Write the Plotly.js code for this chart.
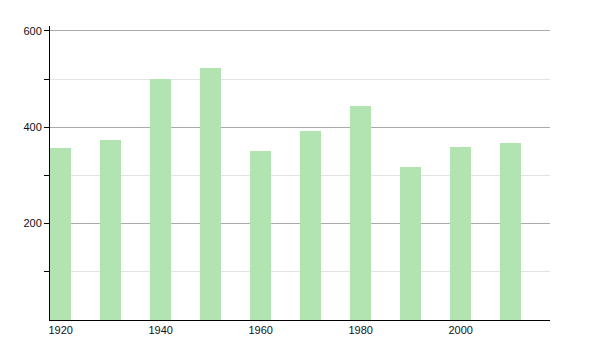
<!DOCTYPE html>
<html>
<head>
<meta charset="utf-8">
<script src="https://cdn.plot.ly/plotly-3.0.1.min.js"></script>
<style>html,body{margin:0;padding:0;background:#fff;}#chart{width:600px;height:350px;}</style>
</head>
<body>
<div id="chart"></div>
<script>
const years = [1920, 1930, 1940, 1950, 1960, 1970, 1980, 1990, 2000, 2010];
const values = [356, 373, 501, 522, 350, 392, 443, 317, 358, 367];
const xTickVals = [1920, 1940, 1960, 1980, 2000];
const xTickText = ["1920", "1940", "1960", "1980", "2000"];
const yTickVals = [200, 400, 600];

const trace = {
  type: 'bar',
  x: years,
  y: values,
  offset: 0,
  width: 4.2,
  marker: {color: 'rgb(178,228,178)', line: {width: 0}},
  hoverinfo: 'x+y'
};

const layout = {
  width: 600,
  height: 350,
  margin: {l: 50, r: 50, t: 26, b: 30, pad: 0},
  paper_bgcolor: '#fff',
  plot_bgcolor: '#fff',
  showlegend: false,
  font: {family: 'Liberation Sans, Arial, sans-serif', size: 11, color: '#111'},
  xaxis: {
    range: [1920, 2020],
    tickvals: xTickVals,
    ticktext: xTickText,
    ticks: '',
    ticklabelposition: 'outside right',
    ticklabelshift: -2,
    showgrid: false,
    zeroline: false,
    showline: true,
    linecolor: '#000',
    linewidth: 1,
    fixedrange: true
  },
  yaxis: {
    range: [0, 610],
    tickvals: yTickVals,
    ticks: 'outside',
    ticklen: 5,
    tickcolor: '#000',
    showgrid: true,
    gridcolor: '#aaaaaa',
    gridwidth: 1,
    zeroline: false,
    showline: true,
    linecolor: '#000',
    linewidth: 1,
    minor: {
      tickvals: [100, 300, 500],
      ticks: 'outside',
      ticklen: 5,
      tickcolor: '#000',
      showgrid: true,
      gridcolor: '#e3e3e3',
      gridwidth: 1
    },
    fixedrange: true
  },
  bargap: 0
};

Plotly.newPlot('chart', [trace], layout, {displayModeBar: false, staticPlot: true});
</script>
</body>
</html>
